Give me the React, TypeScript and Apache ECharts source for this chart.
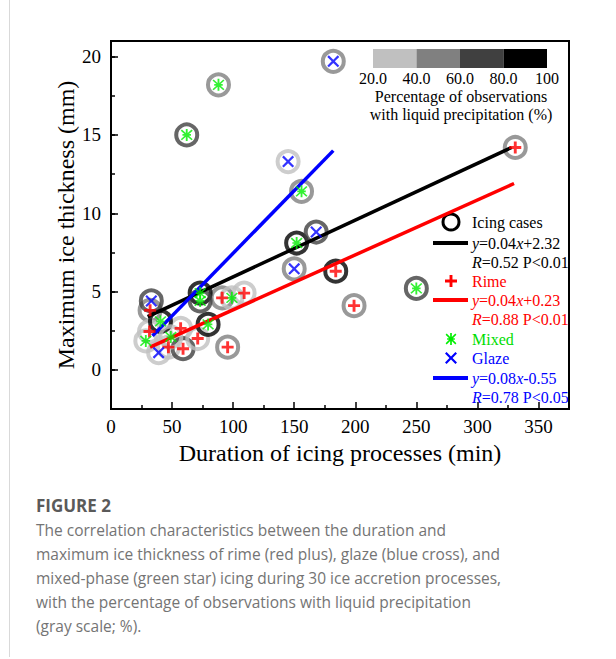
import React, { useEffect, useRef } from 'react';
import * as echarts from 'echarts';

// ---- data ----
const rimeX = [331, 184, 199, 32, 31.5, 47, 57, 59, 71, 91, 109, 95.5];
const rimeY = [14.2, 6.3, 4.1, 3.8, 2.45, 1.45, 2.65, 1.35, 2.0, 4.6, 4.9, 1.45];
const rimePct = [50, 90, 50, 50, 30, 30, 30, 70, 30, 50, 30, 50];

const mixedX = [88, 62, 156, 152, 250, 40.5, 28.5, 49, 73, 73, 79.5, 99];
const mixedY = [18.2, 15.0, 11.4, 8.1, 5.2, 3.1, 1.85, 2.1, 4.9, 4.4, 2.9, 4.6];
const mixedPct = [50, 70, 50, 90, 70, 90, 30, 30, 90, 70, 90, 30];

const glazeX = [182, 145, 168, 150, 33, 39];
const glazeY = [19.7, 13.3, 8.8, 6.45, 4.4, 1.1];
const glazePct = [50, 30, 70, 50, 70, 30];

const fitAllX = [30, 328];
const fitAllY = [3.4, 14.2];
const fitRimeX = [32, 330];
const fitRimeY = [1.45, 11.9];
const fitGlazeX = [34, 182];
const fitGlazeY = [2.17, 14.0];

const yTickValues = [0, 5, 10, 15, 20];
const colorbarLabels = ['20.0', '40.0', '60.0', '80.0', '100'];
const colorbarColors = ['#c0c0c0', '#808080', '#404040', '#000000'];

const captionLines = [
  'The correlation characteristics between the duration and',
  'maximum ice thickness of rime (red plus), glaze (blue cross), and',
  'mixed-phase (green star) icing during 30 ice accretion processes,',
  'with the percentage of observations with liquid precipitation',
  '(gray scale; %).',
];

const PLUS = 'M38,0 H62 V38 H100 V62 H62 V100 H38 V62 H0 V38 H38 Z';
const CROSS = 'M0,13 L13,0 L50,37 L87,0 L100,13 L63,50 L100,87 L87,100 L50,63 L13,100 L0,87 L37,50 Z';
const STAR =
  'M43,0 H57 V100 H43 Z M14,5 L95,86 L86,95 L5,14 Z M86,5 L95,14 L14,95 L5,86 Z M18,43 H82 V57 H18 Z';

const SERIF = "'Times New Roman', 'Liberation Serif', serif";
const SANS = "'Open Sans', 'Noto Sans', sans-serif";

function ringColor(p: number) {
  if (p < 40) return colorbarColors[0];
  if (p < 60) return colorbarColors[1];
  if (p < 80) return colorbarColors[2];
  return colorbarColors[3];
}

function pts(xs: number[], ys: number[]) {
  return xs.map((x, i) => [x, ys[i]]);
}

export default function App() {
  const ref = useRef<HTMLDivElement>(null);
  useEffect(() => {
    echarts.graphic.registerShape('plusMark', echarts.graphic.extendPath(PLUS, {}));
    echarts.graphic.registerShape('crossMark', echarts.graphic.extendPath(CROSS, {}));
    echarts.graphic.registerShape('starMark', echarts.graphic.extendPath(STAR, {}));
    const chart = echarts.init(ref.current!, null, { renderer: 'svg' });

    const ringData: any[] = [];
    const addRings = (xs: number[], ys: number[], ps: number[]) => {
      xs.forEach((x, i) =>
        ringData.push({ value: [x, ys[i]], itemStyle: { borderColor: ringColor(ps[i]) } })
      );
    };
    addRings(rimeX, rimeY, rimePct);
    addRings(mixedX, mixedY, mixedPct);
    addRings(glazeX, glazeY, glazePct);

    const lineSeries = (xs: number[], ys: number[], color: string) => ({
      type: 'line',
      data: pts(xs, ys),
      showSymbol: false,
      symbol: 'none',
      silent: true,
      lineStyle: { color, width: 3.5 },
      z: 3,
    });

    const markerSeries = (xs: number[], ys: number[], path: string, color: string, size: number) => ({
      type: 'scatter',
      data: pts(xs, ys),
      symbol: 'path://' + path,
      symbolSize: size,
      silent: true,
      itemStyle: { color },
      z: 4,
    });

    const legendText = (y: number, text: string, color: string) => ({
      type: 'text',
      x: 472,
      y,
      style: {
        text,
        fill: color,
        fontSize: 16,
        fontFamily: SERIF,
        align: 'left',
        verticalAlign: 'middle',
        rich: {
          i: { fontStyle: 'italic', fontSize: 16, fontFamily: SERIF, fill: color },
        },
      },
    });
    const legendLine = (y: number, color: string) => ({
      type: 'line',
      shape: { x1: 433, y1: y, x2: 468, y2: y },
      style: { stroke: color, lineWidth: 4 },
    });
    const legendMark = (type: string, cy: number, color: string, size: number) => ({
      type,
      x: 451 - size / 2,
      y: cy - size / 2,
      scaleX: size / 100,
      scaleY: size / 100,
      style: { fill: color },
    });

    const graphics: any[] = [
      { type: 'line', shape: { x1: 9.5, y1: 0, x2: 9.5, y2: 657 }, style: { stroke: '#d9d9d9', lineWidth: 1 } },
      {
        type: 'text',
        x: 340,
        y: 453,
        style: {
          text: 'Duration of icing processes (min)',
          fontSize: 24,
          fontFamily: SERIF,
          fill: '#000',
          align: 'center',
          verticalAlign: 'middle',
        },
      },
      {
        type: 'text',
        x: 66,
        y: 225,
        rotation: Math.PI / 2,
        style: {
          text: 'Maximum ice thickness (mm)',
          fontSize: 24,
          fontFamily: SERIF,
          fill: '#000',
          align: 'center',
          verticalAlign: 'middle',
        },
      },
      // colour bar
      ...colorbarColors.map((c, i) => ({
        type: 'rect',
        shape: { x: 373 + i * 43.5, y: 49, width: 43.5, height: 19 },
        style: { fill: c },
      })),
      ...colorbarLabels.map((t, i) => ({
        type: 'text',
        x: 373 + i * 43.5,
        y: 78,
        style: { text: t, fontSize: 16, fontFamily: SERIF, fill: '#000', align: 'center', verticalAlign: 'middle' },
      })),
      {
        type: 'text',
        x: 461,
        y: 96,
        style: {
          text: 'Percentage of observations',
          fontSize: 16,
          fontFamily: SERIF,
          fill: '#000',
          align: 'center',
          verticalAlign: 'middle',
        },
      },
      {
        type: 'text',
        x: 461,
        y: 114,
        style: {
          text: 'with liquid precipitation (%)',
          fontSize: 16,
          fontFamily: SERIF,
          fill: '#000',
          align: 'center',
          verticalAlign: 'middle',
        },
      },
      // legend
      { type: 'circle', shape: { cx: 451, cy: 222, r: 8 }, style: { fill: 'none', stroke: '#000', lineWidth: 3 } },
      legendText(222, 'Icing cases', '#000'),
      legendLine(243, '#000'),
      legendText(243, '{i|y}=0.04{i|x}+2.32', '#000'),
      legendText(262, '{i|R}=0.52 P<0.01', '#000'),
      legendMark('plusMark', 281, '#ff0000', 12),
      legendText(281, 'Rime', '#ff0000'),
      legendLine(300, '#ff0000'),
      legendText(300, '{i|y}=0.04{i|x}+0.23', '#ff0000'),
      legendText(319, '{i|R}=0.88 P<0.01', '#ff0000'),
      legendMark('starMark', 339, '#00ee00', 12),
      legendText(339, 'Mixed', '#00dd00'),
      legendMark('crossMark', 358, '#0000ff', 12),
      legendText(358, 'Glaze', '#0000ff'),
      legendLine(378, '#0000ff'),
      legendText(378, '{i|y}=0.08{i|x}-0.55', '#0000ff'),
      legendText(397, '{i|R}=0.78 P<0.05', '#0000ff'),
      // caption
      {
        type: 'text',
        x: 36,
        y: 505,
        style: {
          text: 'FIGURE 2',
          fontSize: 17,
          fontWeight: 'bold',
          fontFamily: SANS,
          fill: '#5a5a5a',
          align: 'left',
          verticalAlign: 'middle',
        },
      },
      ...captionLines.map((t, i) => ({
        type: 'text',
        x: 36,
        y: 530 + i * 24,
        style: {
          text: t,
          fontSize: 15.5,
          fontFamily: SANS,
          fill: '#747474',
          align: 'left',
          verticalAlign: 'middle',
        },
      })),
    ];

    chart.setOption({
      animation: false,
      backgroundColor: '#ffffff',
      grid: {
        left: 111,
        right: 47,
        top: 41,
        bottom: 250,
        show: true,
        borderColor: '#000',
        borderWidth: 2,
        backgroundColor: 'transparent',
      },
      xAxis: {
        type: 'value',
        min: 0,
        max: 375,
        interval: 50,
        axisLine: { onZero: false, lineStyle: { color: '#000', width: 2 } },
        axisTick: { inside: true, length: 7, lineStyle: { color: '#000', width: 1.5 } },
        minorTick: { show: true, splitNumber: 2, length: 4, lineStyle: { color: '#000', width: 1.5 } },
        splitLine: { show: false },
        minorSplitLine: { show: false },
        axisLabel: {
          color: '#000',
          fontSize: 19,
          fontFamily: SERIF,
          margin: 8,
          formatter: (v: number) => (v % 50 === 0 ? String(v) : ''),
        },
      },
      yAxis: [
        {
          type: 'value',
          min: -2.5,
          max: 21,
          axisLine: { onZero: false, lineStyle: { color: '#000', width: 2 } },
          axisTick: { inside: true, length: 7, customValues: yTickValues, lineStyle: { color: '#000', width: 1.5 } },
          splitLine: { show: false },
          axisLabel: {
            customValues: yTickValues,
            color: '#000',
            fontSize: 19,
            fontFamily: SERIF,
            margin: 10,
          },
        },
        {
          type: 'value',
          min: -2.5,
          max: 21,
          interval: 2.5,
          position: 'left',
          axisLine: { show: false, onZero: false },
          axisTick: { inside: true, length: 4, lineStyle: { color: '#000', width: 1.5 } },
          axisLabel: { show: false },
          splitLine: { show: false },
        },
      ],
      series: [
        {
          type: 'scatter',
          data: ringData,
          symbol: 'circle',
          symbolSize: 21,
          silent: true,
          itemStyle: { color: 'rgba(0,0,0,0)', borderWidth: 4 },
          z: 2,
        },
        lineSeries(fitAllX, fitAllY, '#000000'),
        lineSeries(fitRimeX, fitRimeY, '#ff0000'),
        lineSeries(fitGlazeX, fitGlazeY, '#0000ff'),
        markerSeries(rimeX, rimeY, PLUS, '#ff0000', 12),
        markerSeries(mixedX, mixedY, STAR, '#00ee00', 12),
        markerSeries(glazeX, glazeY, CROSS, '#0000ff', 12),
      ],
      graphic: graphics,
    });
    return () => chart.dispose();
  }, []);
  return (
    <div
      ref={ref}
      style={{ position: 'absolute', left: 0, top: 0, width: 616, height: 659, background: '#fff' }}
    />
  );
}
